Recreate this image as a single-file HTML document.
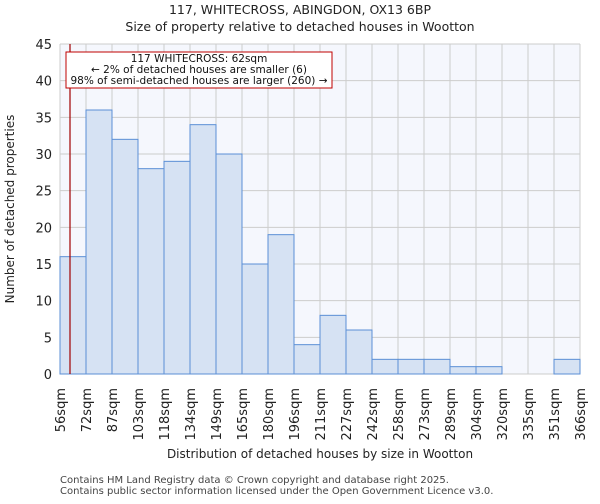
<!DOCTYPE html>
<html><head><meta charset="utf-8"><style>
body{margin:0;background:#fff;font-family:"DejaVu Sans","Liberation Sans",sans-serif;}
</style></head><body>
<svg width="600" height="500" xmlns="http://www.w3.org/2000/svg" font-family="DejaVu Sans, Liberation Sans, sans-serif">
<text x="300" y="14" text-anchor="middle" font-size="12.5" fill="#222">117, WHITECROSS, ABINGDON, OX13 6BP</text>
<text x="300" y="31" text-anchor="middle" font-size="12.5" fill="#222">Size of property relative to detached houses in Wootton</text>
<rect x="60" y="44" width="520" height="330" fill="#f5f7fd"/>
<g id="grid"></g>
<g id="bars"></g>
<g id="axes"></g>
<line x1="70" y1="44" x2="70" y2="374" stroke="#a00000" stroke-width="1.2"/>
<rect x="66" y="52" width="266" height="36" fill="#fff" stroke="#c00000" stroke-width="1"/>
<text x="199" y="62" text-anchor="middle" font-size="10.5" fill="#111">117 WHITECROSS: 62sqm</text>
<text x="199" y="73" text-anchor="middle" font-size="10.5" fill="#111">← 2% of detached houses are smaller (6)</text>
<text x="199" y="84" text-anchor="middle" font-size="10.5" fill="#111">98% of semi-detached houses are larger (260) →</text>
<text x="320" y="458" text-anchor="middle" font-size="12" fill="#222">Distribution of detached houses by size in Wootton</text>
<text transform="translate(14,209) rotate(-90)" text-anchor="middle" font-size="12" fill="#222">Number of detached properties</text>
<text x="60" y="483" font-size="10" fill="#444">Contains HM Land Registry data © Crown copyright and database right 2025.</text>
<text x="60" y="494" font-size="10" fill="#444">Contains public sector information licensed under the Open Government Licence v3.0.</text>
</svg>
<script>
const categories=["56sqm","72sqm","87sqm","103sqm","118sqm","134sqm","149sqm","165sqm","180sqm","196sqm","211sqm","227sqm","242sqm","258sqm","273sqm","289sqm","304sqm","320sqm","335sqm","351sqm","366sqm"];
const counts=[16,36,32,28,29,34,30,15,19,4,8,6,2,2,2,1,1,0,0,2];
const yTicks=[0,5,10,15,20,25,30,35,40,45];
const ns="http://www.w3.org/2000/svg";
const X0=60,W=520,Y0=374,H=330,YMAX=45;
const bw=W/counts.length;
const xs=i=>X0+i*bw;
const ys=v=>Y0-v/YMAX*H;
function mk(t,a,p){const e=document.createElementNS(ns,t);for(const k in a)e.setAttribute(k,a[k]);p.appendChild(e);return e;}
const grid=document.getElementById('grid'),bars=document.getElementById('bars'),axes=document.getElementById('axes');
yTicks.forEach(v=>{
 const l=mk('line',{x1:X0,x2:X0+W,y1:ys(v),y2:ys(v),stroke:'#cccccc','stroke-width':1},grid);
 
 
 const t=mk('text',{x:X0-8,y:ys(v)+5,'text-anchor':'end','font-size':13,fill:'#222'},axes);
 t.textContent=v;
 
 
});
categories.forEach((c,i)=>{
 const l=mk('line',{x1:xs(i),x2:xs(i),y1:Y0-H,y2:Y0,stroke:'#cccccc','stroke-width':1},grid);
 
 
 const x=xs(i);
 const t=mk('text',{transform:`translate(${x+5},388) rotate(-90)`,'text-anchor':'end','font-size':13,fill:'#222'},axes);
 t.textContent=c;
 
 
});
counts.forEach((v,i)=>{
 if(v<=0)return;
 const r=mk('rect',{x:xs(i),y:ys(v),width:bw,height:Y0-ys(v),fill:'#d6e2f3',stroke:'#5b8fd6','stroke-width':1},bars);
 
 
});
</script>
</body></html>
